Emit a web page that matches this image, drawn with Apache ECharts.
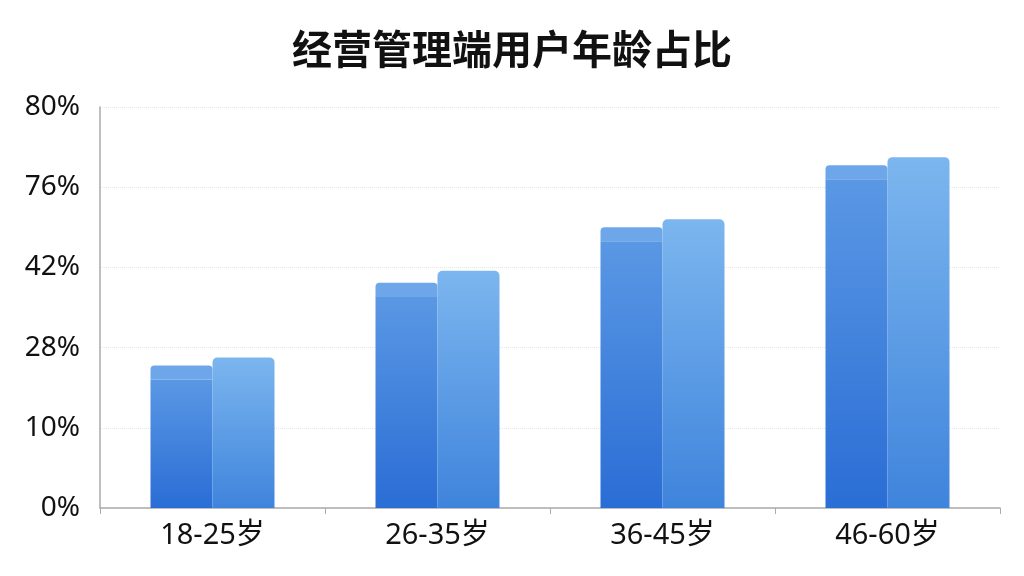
<!DOCTYPE html>
<html>
<head>
<meta charset="utf-8">
<script src="https://cdn.jsdelivr.net/npm/echarts@6/dist/echarts.min.js"></script>
<style>
  html, body { margin: 0; padding: 0; background: #fff; }
  #chart { width: 1024px; height: 576px; }
</style>
</head>
<body>
<div id="chart"></div>
<script>
const title = "经营管理端用户年龄占比";
const categories = ["18-25岁", "26-35岁", "36-45岁", "46-60岁"];
// y tick labels, evenly spaced on the axis
const tickValues = [0, 10, 28, 42, 76, 80];
// percent values
const frontValues = [24, 39.3, 59, 77.1];
const backValues = [25.8, 41.4, 62.4, 77.5];
const capSize = 0.175; // lighter top band of the front bar, in tick steps

// place a percent on the evenly spaced tick axis
function toAxis(p) {
  for (let i = 1; i < tickValues.length; i++) {
    if (p <= tickValues[i]) {
      return i - 1 + (p - tickValues[i - 1]) / (tickValues[i] - tickValues[i - 1]);
    }
  }
  return tickValues.length - 1;
}

const frontBody = frontValues.map(v => toAxis(v) - capSize);
const frontCap = frontValues.map(() => capSize);
const back = backValues.map(v => toAxis(v));

const grad = (top, bottom) => new echarts.graphic.LinearGradient(0, 0, 0, 1, [
  { offset: 0, color: top },
  { offset: 1, color: bottom }
]);

const labelFont = "'Noto Sans', 'Noto Sans CJK SC', sans-serif";

const chart = echarts.init(document.getElementById("chart"));
chart.setOption({
  animation: false,
  title: {
    text: title,
    left: "center",
    top: 24,
    textStyle: { fontSize: 40, fontWeight: "bold", color: "#111", fontFamily: "Noto Sans CJK SC" }
  },
  grid: { left: 100, right: 24, top: 107, bottom: 68 },
  xAxis: {
    type: "category",
    data: categories,
    axisLine: { lineStyle: { color: "#aaa", width: 1.5 } },
    axisTick: { show: true, length: 6, lineStyle: { color: "#aaa" } },
    axisLabel: { fontSize: 29, color: "#111", margin: 13, fontFamily: labelFont }
  },
  yAxis: {
    type: "value",
    min: 0,
    max: tickValues.length - 1,
    interval: 1,
    axisLine: { show: true, lineStyle: { color: "#aaa", width: 1.5 } },
    axisTick: { show: false },
    axisLabel: {
      fontSize: 28,
      color: "#111",
      margin: 20,
      fontFamily: labelFont,
      formatter: v => tickValues[Math.round(v)] + "%"
    },
    splitLine: { lineStyle: { color: "#e6e6e6", type: "dotted" } }
  },
  series: [
    {
      type: "bar",
      stack: "front",
      data: frontBody,
      barWidth: 62,
      barGap: "0%",
      itemStyle: { color: grad("#5a98e4", "#2a6dd5") }
    },
    {
      type: "bar",
      stack: "front",
      data: frontCap,
      barWidth: 62,
      itemStyle: { color: "#6da7ea", borderRadius: [4, 4, 0, 0] }
    },
    {
      type: "bar",
      stack: "back",
      data: back,
      barWidth: 62,
      barGap: "0%",
      itemStyle: { color: grad("#7cb6ef", "#3f84dc"), borderRadius: [5, 5, 0, 0] }
    }
  ]
});
</script>
</body>
</html>
